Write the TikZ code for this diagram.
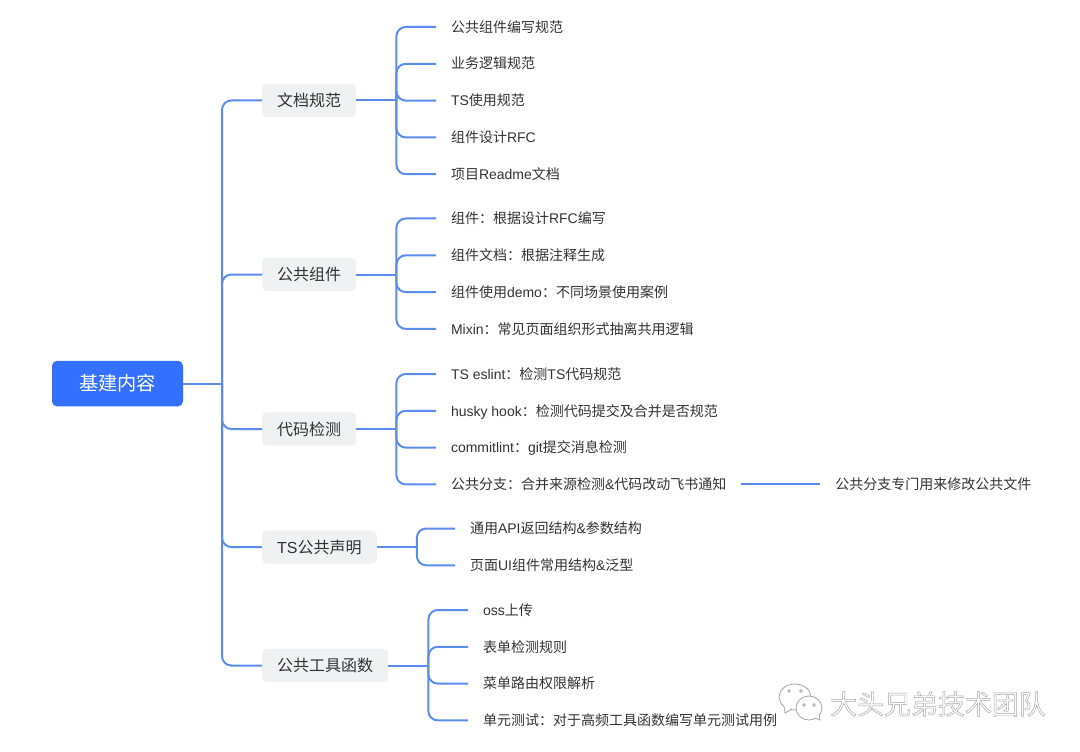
\documentclass[tikz,border=0pt]{standalone}
\usepackage{fontspec}
\setmainfont{Noto Sans CJK SC}
\newfontfamily\latinfont{Liberation Sans}
\newcommand{\la}[1]{{\latinfont #1}}
\newcommand{\hollow}[1]{\special{pdf:code q 1 Tr 0.35 w}#1\special{pdf:code Q}}
\definecolor{rootblue}{RGB}{51, 112, 255}
\definecolor{linkblue}{RGB}{91, 141, 239}
\definecolor{boxgray}{RGB}{240, 241, 243}
\definecolor{inkgray}{RGB}{51, 51, 51}
\definecolor{markgray}{RGB}{165, 165, 165}
\usetikzlibrary{positioning, shadows}
\tikzset{
	rootnode/.style={rectangle, rounded corners=3.75pt, fill=rootblue, text=white, minimum width=98.25pt, minimum height=34pt, inner sep=0pt, outer sep=0pt, font=\fontsize{14.4}{17}\selectfont, drop shadow={shadow xshift=0pt, shadow yshift=-0.8pt, opacity=0.25, fill=rootblue}},
	topic/.style={rectangle, rounded corners=3.75pt, fill=boxgray, text=inkgray, anchor=west, minimum height=25pt, inner xsep=11.4pt, inner ysep=0pt, outer sep=0pt, font=\fontsize{12}{14}\selectfont},
	leaf/.style={rectangle, text=inkgray, anchor=west, minimum height=27.6pt, text height=10pt, text depth=2.2pt, inner xsep=11.25pt, inner ysep=0pt, outer sep=0pt, font=\fontsize{10.5}{13}\selectfont},
	nextleaf/.style={leaf, below=0pt of #1.south west, anchor=north west},
	link/.style={draw=linkblue, line width=1.5pt, rounded corners=7pt},
	logo/.style={draw=markgray, fill=white, line width=0.6pt},
}
\begin{document}
\begin{tikzpicture}[x=0.75pt, y=-0.75pt]
	\useasboundingbox[fill=white] (0,0) rectangle (1080,752);
	\node[rootnode] (root) at (117.5,383.5) {基建内容};
	\node[topic] (doc) at (262,100.5) {文档规范};
	\node[topic] (comp) at (262,274.5) {公共组件};
	\node[topic] (lint) at (262,429) {代码检测};
	\node[topic] (decl) at (262,547) {\la{TS}公共声明};
	\node[topic] (tool) at (262,665.5) {公共工具函数};

	\node[leaf] (doca) at (436,27) {公共组件编写规范};
	\node[nextleaf=doca] (docb) {业务逻辑规范};
	\node[nextleaf=docb] (docc) {\la{TS}使用规范};
	\node[nextleaf=docc] (docd) {组件设计\la{RFC}};
	\node[nextleaf=docd] (doce) {项目\la{Readme}文档};

	\node[leaf] (compa) at (436,218.5) {组件：根据设计\la{RFC}编写};
	\node[nextleaf=compa] (compb) {组件文档：根据注释生成};
	\node[nextleaf=compb] (compc) {组件使用\la{demo}：不同场景使用案例};
	\node[nextleaf=compc] (compd) {\la{Mixin}：常见页面组织形式抽离共用逻辑};

	\node[leaf] (linta) at (436,374) {\la{TS eslint}：检测\la{TS}代码规范};
	\node[nextleaf=linta] (lintb) {\la{husky hook}：检测代码提交及合并是否规范};
	\node[nextleaf=lintb] (lintc) {\la{commitlint}：\la{git}提交消息检测};
	\node[nextleaf=lintc] (lintd) {公共分支：合并来源检测\la{\&}代码改动飞书通知};
	\node[leaf, right=59.25pt of lintd] (branch) {公共分支专门用来修改公共文件};

	\node[leaf] (decla) at (455,528.5) {通用\la{API}返回结构\la{\&}参数结构};
	\node[nextleaf=decla] (declb) {页面\la{UI}组件常用结构\la{\&}泛型};

	\node[leaf] (toola) at (468,610) {\la{oss}上传};
	\node[nextleaf=toola] (toolb) {表单检测规则};
	\node[nextleaf=toolb] (toolc) {菜单路由权限解析};
	\node[nextleaf=toolc] (toold) {单元测试：对于高频工具函数编写单元测试用例};

	\coordinate[right=29.25pt of root.east] (roothub);
	\coordinate[right=30pt of doc.east] (dochub);
	\coordinate[right=30pt of comp.east] (comphub);
	\coordinate[right=30pt of lint.east] (linthub);
	\coordinate[right=30pt of decl.east] (declhub);
	\coordinate[right=30pt of tool.east] (toolhub);

	\draw[link] (root.east) -- (roothub);
	\foreach \t in {doc, comp, lint, decl, tool}
		\draw[link] (roothub) |- (\t.west);
	\draw[link] (doc.east) -- (dochub);
	\foreach \l in {doca, docb, docc, docd, doce}
		\draw[link] (dochub) |- (\l.west);
	\draw[link] (comp.east) -- (comphub);
	\foreach \l in {compa, compb, compc, compd}
		\draw[link] (comphub) |- (\l.west);
	\draw[link] (lint.east) -- (linthub);
	\foreach \l in {linta, lintb, lintc, lintd}
		\draw[link] (linthub) |- (\l.west);
	\draw[link] (decl.east) -- (declhub);
	\foreach \l in {decla, declb}
		\draw[link] (declhub) |- (\l.west);
	\draw[link] (tool.east) -- (toolhub);
	\foreach \l in {toola, toolb, toolc, toold}
		\draw[link] (toolhub) |- (\l.west);
	\draw[link] (lintd.east) -- (branch.west);

	\draw[logo] (795,697) ellipse (16 and 13);
	\draw[logo] (784,706) -- (785,713) -- (792,709);
	\draw[logo] (809,708) ellipse (13 and 12);
	\draw[logo] (815,718) -- (820,720) -- (819,714);
	\foreach \x/\y in {789/691, 801/691, 804/705, 814/705}
		\draw[logo] (\x,\y) circle (1.4);
	\node[anchor=west, inner sep=0pt, text=markgray, font=\fontsize{20.2}{24}\selectfont] (mark) at (830,704) {\hollow{大头兄弟技术团队}};
\end{tikzpicture}
\end{document}
